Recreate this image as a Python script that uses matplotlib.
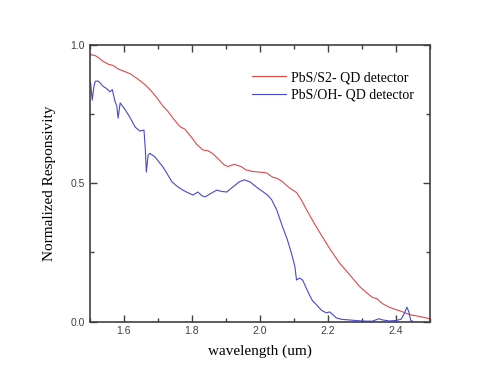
import matplotlib
matplotlib.use("Agg")
import matplotlib.pyplot as plt
from matplotlib.ticker import MultipleLocator

# PbS/S2- QD detector (red)
s2_wl = [1.500, 1.508, 1.515, 1.525, 1.540, 1.555, 1.570, 1.585, 1.600, 1.620,
         1.640, 1.663, 1.680, 1.700, 1.716, 1.730, 1.745, 1.765, 1.780, 1.800,
         1.815, 1.833, 1.848, 1.862, 1.880, 1.895, 1.906, 1.926, 1.945, 1.960,
         1.980, 2.000, 2.020, 2.037, 2.052, 2.067, 2.085, 2.108, 2.122, 2.137,
         2.160, 2.184, 2.210, 2.234, 2.260, 2.292, 2.310, 2.330, 2.345, 2.360,
         2.380, 2.400, 2.420, 2.440, 2.470, 2.500]
s2_resp = [0.970, 0.962, 0.962, 0.955, 0.940, 0.930, 0.925, 0.912, 0.905, 0.895,
           0.878, 0.856, 0.835, 0.805, 0.778, 0.760, 0.735, 0.705, 0.695, 0.665,
           0.640, 0.620, 0.617, 0.607, 0.585, 0.567, 0.560, 0.568, 0.560, 0.548,
           0.542, 0.540, 0.537, 0.522, 0.517, 0.505, 0.485, 0.466, 0.440, 0.405,
           0.355, 0.306, 0.255, 0.212, 0.175, 0.128, 0.108, 0.088, 0.082, 0.065,
           0.052, 0.043, 0.035, 0.025, 0.018, 0.010]

# PbS/OH- QD detector (blue)
oh_wl = [1.500, 1.503, 1.508, 1.513, 1.517, 1.526, 1.540, 1.550, 1.560, 1.567,
         1.575, 1.580, 1.584, 1.590, 1.605, 1.620, 1.634, 1.648, 1.660, 1.664,
         1.667, 1.672, 1.677, 1.692, 1.705, 1.716, 1.730, 1.742, 1.758, 1.774,
         1.790, 1.804, 1.818, 1.830, 1.839, 1.855, 1.874, 1.888, 1.903, 1.920,
         1.940, 1.955, 1.972, 1.990, 2.005, 2.023, 2.035, 2.050, 2.067, 2.080,
         2.093, 2.103, 2.108, 2.117, 2.126, 2.135, 2.146, 2.155, 2.167, 2.182,
         2.196, 2.205, 2.212, 2.225, 2.240, 2.260, 2.280, 2.300, 2.330, 2.350,
         2.360, 2.380, 2.400, 2.415, 2.425, 2.432, 2.438, 2.443, 2.450]
oh_resp = [0.850, 0.865, 0.800, 0.850, 0.868, 0.869, 0.850, 0.842, 0.830, 0.838,
           0.795, 0.780, 0.735, 0.790, 0.765, 0.735, 0.703, 0.688, 0.692, 0.620,
           0.540, 0.600, 0.608, 0.595, 0.575, 0.558, 0.530, 0.505, 0.488, 0.475,
           0.465, 0.457, 0.468, 0.455, 0.450, 0.462, 0.475, 0.470, 0.468, 0.485,
           0.505, 0.512, 0.504, 0.486, 0.473, 0.457, 0.440, 0.403, 0.342, 0.300,
           0.247, 0.200, 0.150, 0.157, 0.150, 0.125, 0.096, 0.075, 0.060, 0.040,
           0.031, 0.035, 0.028, 0.013, 0.008, 0.006, 0.004, 0.002, 0.001, 0.010,
           0.006, 0.002, 0.004, 0.008, 0.030, 0.052, 0.035, 0.005, 0.000]

x_ticks = [1.6, 1.8, 2.0, 2.2, 2.4]
y_ticks = [0.0, 0.5, 1.0]

serif = "Liberation Serif"
sans = "Liberation Sans"

fig = plt.figure(figsize=(5, 3.86), dpi=100)
ax = fig.add_axes([0.179, 0.167, 0.681, 0.717])

ax.plot(s2_wl, s2_resp, color="#e04848", lw=0.8, label="PbS/S2- QD detector")
ax.plot(oh_wl, oh_resp, color="#4848c8", lw=0.8, label="PbS/OH- QD detector")

ax.set_xlim(1.5, 2.5)
ax.set_ylim(0, 1.0)
ax.set_xticks(x_ticks)
ax.set_xticklabels([f"{t:.1f}" for t in x_ticks])
ax.set_yticks(y_ticks)
ax.set_yticklabels([f"{t:.1f}" for t in y_ticks])
ax.xaxis.set_minor_locator(MultipleLocator(0.1))
ax.yaxis.set_minor_locator(MultipleLocator(0.25))

ax.tick_params(which="both", direction="in", top=True, right=True,
               colors="#404040", labelsize=7.5)
ax.tick_params(which="major", length=5, width=1)
ax.tick_params(which="minor", length=3, width=1)
for lab in ax.get_xticklabels() + ax.get_yticklabels():
    lab.set_fontfamily(sans)
for sp in ax.spines.values():
    sp.set_linewidth(1.2)
    sp.set_color("#404040")

ax.set_xlabel("wavelength (um)", fontfamily=serif, fontsize=11, labelpad=6)
ax.set_ylabel("Normalized Responsivity", fontfamily=serif, fontsize=11, labelpad=10)

ax.legend(loc="upper right", frameon=False, prop={"family": serif, "size": 10},
          handlelength=2.4, handletextpad=0.4, labelspacing=0.35,
          bbox_to_anchor=(0.99, 0.95))

fig.savefig("out.png", dpi=100)
